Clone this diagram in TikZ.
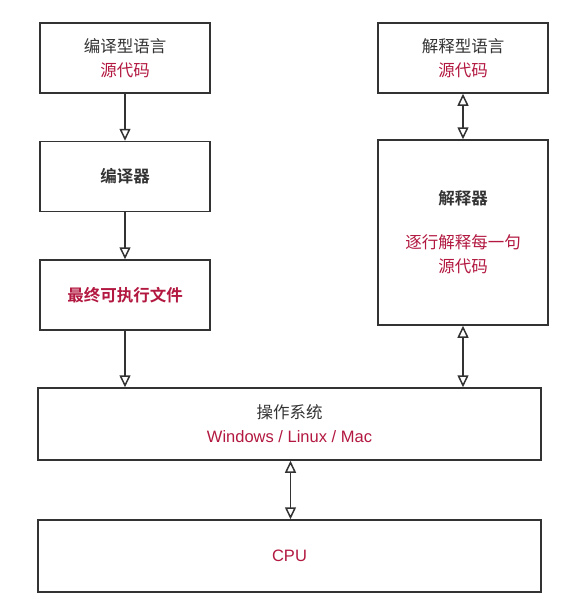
\documentclass[tikz,border=0pt]{standalone}
\usepackage{fontspec}
\setmainfont{Noto Sans CJK SC}[BoldFont=* Bold]
\newfontfamily\latinfont{Liberation Sans}
\usepackage{xcolor}
\usepackage{tikz}
\usetikzlibrary{positioning,arrows.meta}
\definecolor{srcred}{RGB}{178,24,64}
\definecolor{boxline}{RGB}{51,51,51}

\begin{document}
\begin{tikzpicture}[x=1pt, y=-1pt, node distance=47pt,
  every node/.style={font=\fontsize{16.5}{24}\selectfont, text=boxline},
  box/.style={draw=boxline, line width=1.5pt, rectangle, align=center, minimum width=170pt, minimum height=70pt, inner sep=0pt},
  wide/.style={box, minimum width=503pt, minimum height=72pt},
  flow/.style={-{Triangle[open, length=12pt, width=11pt]}, draw=boxline, line width=1.5pt},
  both/.style={{Triangle[open, length=12pt, width=11pt]}-{Triangle[open, length=12pt, width=11pt]}, draw=boxline, line width=1.5pt}]
\useasboundingbox (0,0) rectangle (578,616);
\node[box] (compiled) at (125,58) {编译型语言\\\textcolor{srcred}{源代码}};
\node[box, below=of compiled] (compiler) {\textbf{编译器}};
\node[box, below=of compiler] (binary) {\textcolor{srcred}{\textbf{最终可执行文件}}};
\node[box] (interpreted) at (463,58) {解释型语言\\\textcolor{srcred}{源代码}};
\node[box, minimum height=185pt] (interpreter) at (463,232.5) {\textbf{解释器}\\[20pt]\textcolor{srcred}{逐行解释每一句}\\\textcolor{srcred}{源代码}};
\node[wide] (os) at (289.5,424) {操作系统\\\textcolor{srcred}{\latinfont Windows / Linux / Mac}};
\node[wide] (cpu) at (289.5,556) {\textcolor{srcred}{\latinfont CPU}};

\draw[flow] (compiled) -- (compiler);
\draw[flow] (compiler) -- (binary);
\draw[flow] (binary.south) -- (binary.south |- os.north);
\draw[both] (interpreted) -- (interpreter);
\draw[both] (interpreter.south) -- (interpreter.south |- os.north);
\draw[both] ([xshift=1pt]os.south) -- ([xshift=1pt]cpu.north);
\end{tikzpicture}
\end{document}
